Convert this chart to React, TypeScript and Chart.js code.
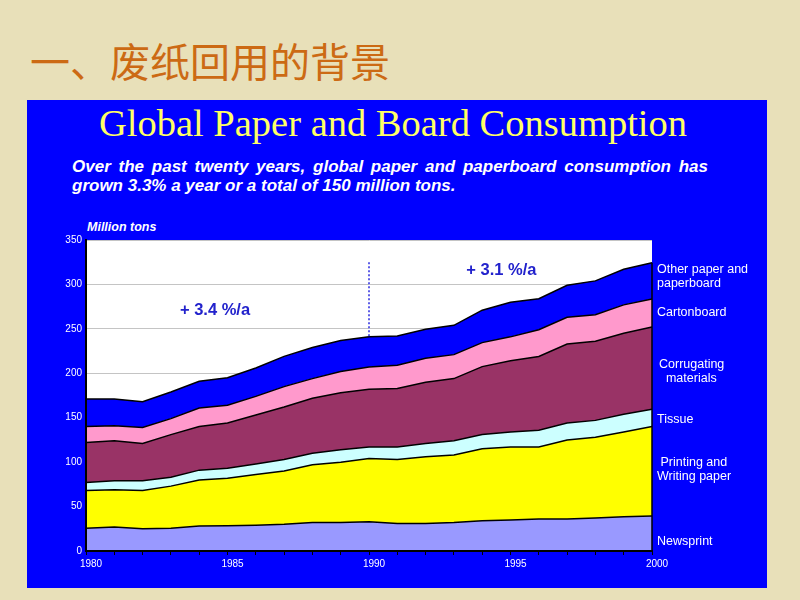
import React, { useEffect, useRef } from "react";
import { Chart, registerables } from "chart.js";

Chart.register(...registerables);

const years = ["1980","1981","1982","1983","1984","1985","1986","1987","1988","1989","1990","1991","1992","1993","1994","1995","1996","1997","1998","1999","2000"];
const newsprint = [25.5,27,25,25.5,28,28.5,29,30,32,32,33,31,31,32,34,35,36,36,37,38.5,39.5];
const printing = [42.5,42,43,47.5,52,53.5,57,60,65,68,71,72,75,76,81,82,81,89,91,95.5,100.5];
const tissue = [9,10,11,10,11,11,12,13,13,14,13,14,15,16,16,17,19,19,19,20,19.5];
const corrugating = [45,45,42,48,49,51,55,59,62,64,65,66,69,70,76.5,80,83,89,89,91,92.5];
const cartonboard = [18,17,18,18,21,20,21,23,22,24,25,26,27,27,27,27,30,30,30,32,31.5];
const other = [31,30,29,30,30,31,32,34,35,35,34,33,32.5,33,36.5,39,35,36,38,40,41];
const yTicks = [0,50,100,150,200,250,300,350];

const seriesNames = ["Newsprint","Printing and Writing paper","Tissue","Corrugating materials","Cartonboard","Other paper and paperboard"];
const seriesData = [newsprint, printing, tissue, corrugating, cartonboard, other];
const seriesColors = ["#9999FF","#FFFF00","#CCFFFF","#993366","#FF99CC","#0000FF"];

const annotations = [
  { text: "+ 3.4 %/a", xIndex: 4.56, y: 271 },
  { text: "+ 3.1 %/a", xIndex: 14.68, y: 316 },
];
const markerIndex = 10;
const markerTop = 325;

const sans = "'Liberation Sans', Arial, sans-serif";

export default function App() {
  const ref = useRef<HTMLCanvasElement | null>(null);

  useEffect(() => {
    const canvas = ref.current;
    if (!canvas) return;
    const totals = years.map((_, i) => seriesData.reduce((s, d) => s + d[i], 0));

    const plotBg = {
      id: "plotBg",
      beforeDraw(chart: any) {
        const { ctx, chartArea } = chart;
        ctx.save();
        ctx.fillStyle = "#FFFFFF";
        ctx.fillRect(chartArea.left, chartArea.top, chartArea.right - chartArea.left, chartArea.bottom - chartArea.top);
        ctx.restore();
      },
    };

    const overlay = {
      id: "overlay",
      afterDatasetsDraw(chart: any) {
        const { ctx, chartArea, scales } = chart;
        const xs = scales.x, ys = scales.y;
        ctx.save();
        ctx.strokeStyle = "#000000";
        ctx.lineWidth = 2;
        ctx.beginPath();
        ctx.moveTo(chartArea.left, chartArea.top);
        ctx.lineTo(chartArea.left, chartArea.bottom);
        ctx.lineTo(chartArea.right, chartArea.bottom);
        ctx.stroke();
        ctx.lineWidth = 1.5;
        ctx.beginPath();
        const lastX = xs.getPixelForValue(years.length - 1);
        ctx.moveTo(lastX, chartArea.bottom);
        ctx.lineTo(lastX, ys.getPixelForValue(totals[years.length - 1]));
        ctx.stroke();
        ctx.strokeStyle = "#2a2aE0";
        ctx.lineWidth = 1.5;
        ctx.setLineDash([2, 2]);
        const mx = Math.round(xs.getPixelForValue(markerIndex));
        ctx.beginPath();
        ctx.moveTo(mx, ys.getPixelForValue(markerTop));
        ctx.lineTo(mx, ys.getPixelForValue(totals[markerIndex]));
        ctx.stroke();
        ctx.setLineDash([]);
        ctx.fillStyle = "#2222CC";
        ctx.font = "bold 16.5px " + sans;
        ctx.textAlign = "center";
        ctx.textBaseline = "middle";
        const step = xs.getPixelForValue(1) - xs.getPixelForValue(0);
        annotations.forEach((a) => {
          const x = xs.getPixelForValue(0) + step * a.xIndex;
          ctx.fillText(a.text, x, ys.getPixelForValue(a.y));
        });
        ctx.restore();
      },
    };

    const chart = new Chart(canvas, {
      type: "line",
      data: {
        labels: years,
        datasets: seriesData.map((d, i) => ({
          label: seriesNames[i],
          data: d,
          backgroundColor: seriesColors[i],
          borderColor: "#000000",
          borderWidth: 1.5,
          pointRadius: 0,
          tension: 0,
          fill: i === 0 ? "origin" : "-1",
        })),
      },
      options: {
        animation: false,
        responsive: false,
        maintainAspectRatio: false,
        layout: { padding: { left: 46, right: 148, top: 240, bottom: 19 } },
        plugins: { legend: { display: false }, tooltip: { enabled: false } },
        scales: {
          x: {
            type: "category",
            offset: false,
            afterFit(scale: any) { scale.height = 30; },
            grid: { drawOnChartArea: false, drawTicks: true, tickLength: 4, color: "#000000" },
            border: { color: "#000000", width: 2 },
            ticks: {
              autoSkip: false,
              maxRotation: 0,
              labelOffset: 5,
              padding: 3,
              color: "#FFFFFF",
              font: { family: sans, size: 10 },
              callback: (_v: any, i: number) => (Number(years[i]) % 5 === 0 ? years[i] : ""),
            },
          },
          y: {
            stacked: true,
            min: yTicks[0],
            max: yTicks[yTicks.length - 1],
            afterFit(scale: any) { scale.width = 40; },
            grid: { color: "#C4C4C4", lineWidth: 1, drawTicks: false },
            border: { color: "#000000", width: 2 },
            ticks: {
              stepSize: 50,
              padding: 4,
              color: "#FFFFFF",
              font: { family: sans, size: 10 },
            },
          },
        },
      },
      plugins: [plotBg, overlay],
    } as any);
    return () => chart.destroy();
  }, []);

  const label = (text: string[], left: number, top: number) => (
    <div
      style={{
        position: "absolute",
        left,
        top,
        color: "#FFFFFF",
        font: "12.5px " + sans,
        lineHeight: "14px",
        whiteSpace: "pre",
      }}
    >
      {text.join("\n")}
    </div>
  );

  return (
    <div style={{ position: "fixed", left: 0, top: 0, width: 800, height: 600, background: "#E8E0B9", overflow: "hidden" }}>
      <div
        style={{
          position: "absolute",
          left: 30,
          top: 36,
          color: "#CC6A14",
          fontFamily: "'Noto Sans CJK SC', sans-serif",
          fontSize: 40,
          lineHeight: "48px",
          whiteSpace: "nowrap",
        }}
      >
        一、废纸回用的背景
      </div>
      <div style={{ position: "absolute", left: 27, top: 100, width: 740, height: 488, background: "#0000FF" }} />
      <div
        style={{
          position: "absolute",
          left: 23,
          top: 100,
          width: 740,
          textAlign: "center",
          color: "#FFFF66",
          fontFamily: "'Liberation Serif', 'Times New Roman', serif",
          fontSize: 38.5,
          lineHeight: "46px",
        }}
      >
        Global Paper and Board Consumption
      </div>
      <div
        style={{
          position: "absolute",
          left: 72,
          top: 157,
          width: 636,
          color: "#FFFFFF",
          font: "italic bold 17px " + sans,
          lineHeight: "19px",
          textAlign: "justify",
          textAlignLast: "justify",
          whiteSpace: "nowrap",
        }}
      >
        Over the past twenty years, global paper and paperboard consumption has
      </div>
      <div
        style={{
          position: "absolute",
          left: 72,
          top: 176,
          color: "#FFFFFF",
          font: "italic bold 17px " + sans,
          lineHeight: "19px",
          whiteSpace: "nowrap",
        }}
      >
        grown 3.3% a year or a total of 150 million tons.
      </div>
      <div
        style={{
          position: "absolute",
          left: 87,
          top: 219,
          color: "#FFFFFF",
          font: "italic bold 12.5px " + sans,
          lineHeight: "16px",
        }}
      >
        Million tons
      </div>
      <canvas ref={ref} width={800} height={600} style={{ position: "absolute", left: 0, top: 0 }} />
      {label(["Other paper and", "paperboard"], 657, 262)}
      {label(["Cartonboard"], 657, 305)}
      {label(["Corrugating", "  materials"], 659, 357)}
      {label(["Tissue"], 657, 412)}
      {label([" Printing and", "Writing paper"], 657, 455)}
      {label(["Newsprint"], 657, 534)}
    </div>
  );
}
